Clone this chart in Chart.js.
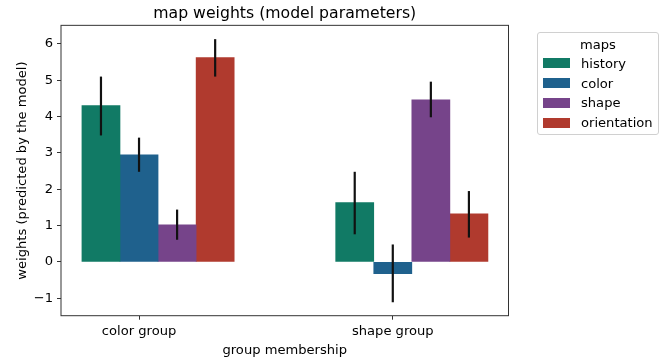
<!DOCTYPE html>
<html>
<head>
    <script src="https://cdn.jsdelivr.net/npm/chart.js@4.4.0/dist/chart.umd.min.js"></script>
    <style>
        body {
            margin: 0;
            background: #fff;
            font-family: "DejaVu Sans", sans-serif;
        }
        #wrap {
            position: relative;
            width: 665px;
            height: 360px;
        }
        #legend {
            position: absolute;
            left: 537px;
            top: 32px;
            width: 120px;
            height: 101px;
            border: 1px solid #d0d0d0;
            border-radius: 3px;
            font-size: 13.1px;
            color: #000;
        }
        #legend .title {
            position: absolute;
            left: 0;
            right: 0;
            top: 1.5px;
            height: 20px;
            line-height: 20px;
            text-align: center;
        }
        #legend .row {
            position: absolute;
            left: 5px;
            height: 20px;
            line-height: 20px;
            white-space: nowrap;
        }
        #legend .swatch {
            display: inline-block;
            width: 27px;
            height: 10px;
            vertical-align: middle;
            margin-right: 11px;
            margin-top: -2px;
        }
    </style>
</head>
<body>
    <div id="wrap">
        <canvas id="chart" width="665" height="360"></canvas>
        <div id="legend"></div>
    </div>

    <script>
        // categories on the x axis
        const categories = ['color group', 'shape group'];

        // hue levels (maps) and their colours
        const mapNames = ['history', 'color', 'shape', 'orientation'];
        const mapColors = ['#117A65', '#1F618D', '#76448A', '#B03A2E'];

        // mean weights per group
        const historyWeights = [4.30, 1.63];
        const colorWeights = [2.95, -0.32];
        const shapeWeights = [1.02, 4.46];
        const orientationWeights = [5.62, 1.32];

        // confidence intervals [low, high]
        const historyCI = [[3.48, 5.10], [0.76, 2.48]];
        const colorCI = [[2.48, 3.42], [-1.11, 0.48]];
        const shapeCI = [[0.61, 1.44], [3.98, 4.96]];
        const orientationCI = [[5.10, 6.13], [0.67, 1.95]];

        const yTicks = [-1, 0, 1, 2, 3, 4, 5, 6];

        const allWeights = [historyWeights, colorWeights, shapeWeights, orientationWeights];
        const allCI = [historyCI, colorCI, shapeCI, orientationCI];

        const barWidth = 0.15;
        const fontFamily = '"DejaVu Sans", sans-serif';

        const datasets = mapNames.map((name, i) => ({
            label: name,
            data: allWeights[i].map((v, j) => ({ x: j + (i - 1) * barWidth, y: v })),
            ci: allCI[i],
            backgroundColor: mapColors[i],
            borderWidth: 0
        }));

        // error bars + frame around the plot
        const extras = {
            id: 'extras',
            afterDatasetsDraw(chart) {
                const { ctx, chartArea, scales: { y } } = chart;
                ctx.save();
                ctx.strokeStyle = '#111';
                ctx.lineWidth = 2.2;
                chart.data.datasets.forEach((ds, di) => {
                    const meta = chart.getDatasetMeta(di);
                    ds.ci.forEach((ci, j) => {
                        const px = meta.data[j].x;
                        ctx.beginPath();
                        ctx.moveTo(px, y.getPixelForValue(ci[0]));
                        ctx.lineTo(px, y.getPixelForValue(ci[1]));
                        ctx.stroke();
                    });
                });
                ctx.strokeStyle = '#333';
                ctx.lineWidth = 1;
                ctx.strokeRect(chartArea.left, chartArea.top,
                    chartArea.right - chartArea.left, chartArea.bottom - chartArea.top);
                ctx.restore();
            }
        };

        new Chart(document.getElementById('chart'), {
            type: 'bar',
            data: { datasets },
            plugins: [extras],
            options: {
                responsive: false,
                animation: false,
                devicePixelRatio: 1,
                grouped: false,
                categoryPercentage: 1,
                barPercentage: 1,
                layout: { padding: { left: 0, right: 156.5, top: 0, bottom: 0 } },
                plugins: {
                    legend: { display: false },
                    tooltip: { enabled: false },
                    title: {
                        display: true,
                        fullSize: false,
                        text: 'map weights (model parameters)',
                        color: '#000',
                        font: { family: fontFamily, size: 15.7, weight: 'normal' },
                        padding: { top: 4.5, bottom: 2 }
                    }
                },
                scales: {
                    x: {
                        type: 'linear',
                        offset: false,
                        min: -0.3075,
                        max: 1.456,
                        afterBuildTicks: (scale) => {
                            scale.ticks = categories.map((c, i) => ({ value: i }));
                        },
                        afterFit: (scale) => { scale.height = 44.3; },
                        ticks: {
                            callback: (v) => categories[v],
                            color: '#000',
                            padding: 4,
                            maxRotation: 0,
                            autoSkip: false,
                            font: { family: fontFamily, size: 13.1 }
                        },
                        grid: {
                            offset: false,
                            drawOnChartArea: false,
                            drawTicks: true,
                            tickLength: 4,
                            color: '#333'
                        },
                        border: { display: false },
                        title: {
                            display: true,
                            text: 'group membership',
                            color: '#000',
                            font: { family: fontFamily, size: 13.1 },
                            padding: { top: 0, bottom: 1.5 }
                        }
                    },
                    y: {
                        min: -1.48,
                        max: 6.51,
                        afterBuildTicks: (scale) => {
                            scale.ticks = yTicks.map(v => ({ value: v }));
                        },
                        afterFit: (scale) => { scale.width = 61; },
                        ticks: {
                            callback: (v) => (v < 0 ? '\u2212' + Math.abs(v) : String(v)),
                            color: '#000',
                            padding: 4,
                            font: { family: fontFamily, size: 13.1 }
                        },
                        grid: {
                            drawOnChartArea: false,
                            drawTicks: true,
                            tickLength: 4,
                            color: '#333'
                        },
                        border: { display: false },
                        title: {
                            display: true,
                            text: 'weights (predicted by the model)',
                            color: '#000',
                            font: { family: fontFamily, size: 13.1 },
                            padding: { top: 14.5, bottom: 0 }
                        }
                    }
                }
            }
        });

        // legend box (matplotlib style)
        const legend = document.getElementById('legend');
        const title = document.createElement('div');
        title.className = 'title';
        title.textContent = 'maps';
        legend.appendChild(title);
        mapNames.forEach((name, i) => {
            const row = document.createElement('div');
            row.className = 'row';
            row.style.top = (20.7 + i * 19.8) + 'px';
            const sw = document.createElement('span');
            sw.className = 'swatch';
            sw.style.background = mapColors[i];
            row.appendChild(sw);
            row.appendChild(document.createTextNode(name));
            legend.appendChild(row);
        });
    </script>
</body>
</html>
